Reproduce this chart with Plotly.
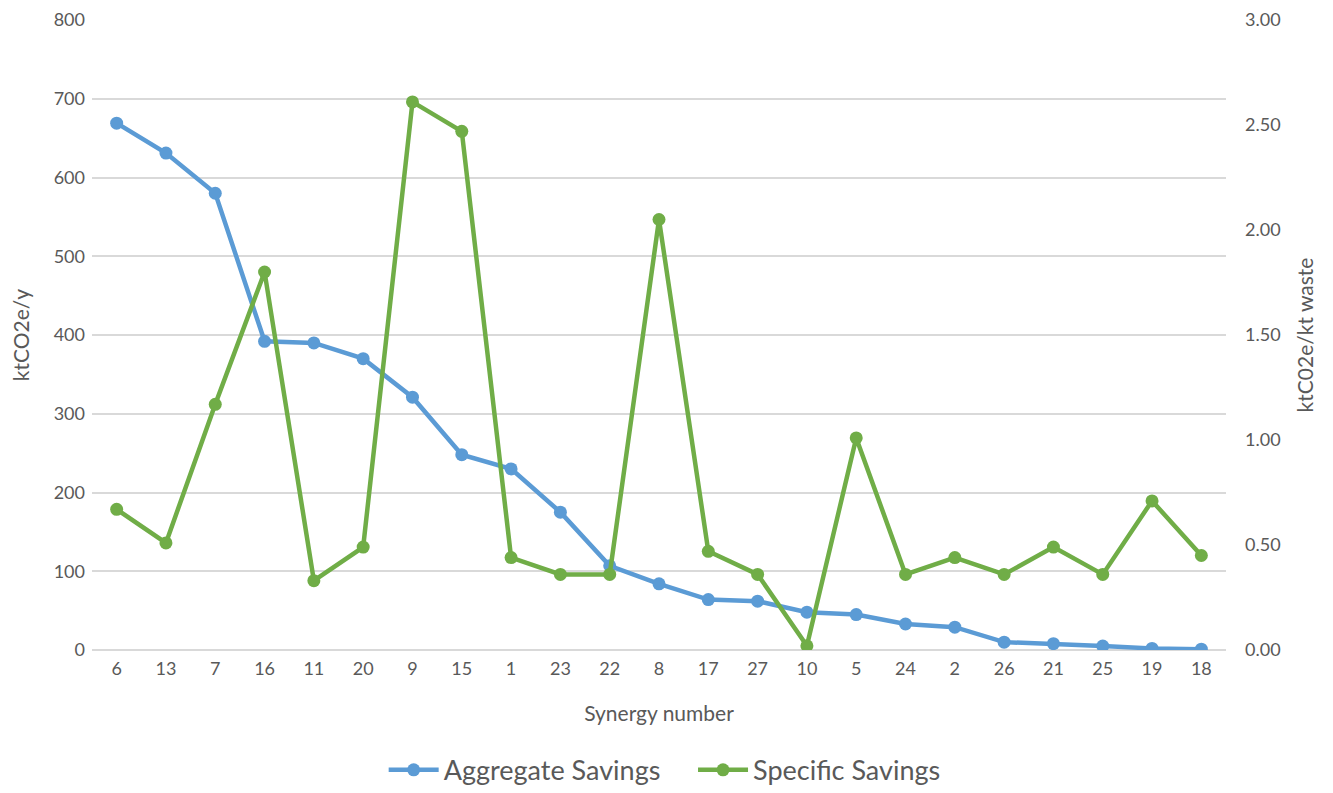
import plotly.graph_objects as go

synergy = ["6", "13", "7", "16", "11", "20", "9", "15", "1", "23", "22", "8",
           "17", "27", "10", "5", "24", "2", "26", "21", "25", "19", "18"]
aggregate_savings = [669, 631, 580, 392, 390, 370, 321, 248, 230, 175, 107, 84,
                     64, 62, 48, 45, 33, 29, 10, 8, 5, 2, 1]
specific_savings = [0.67, 0.51, 1.17, 1.80, 0.33, 0.49, 2.61, 2.47, 0.44, 0.36, 0.36, 2.05,
                    0.47, 0.36, 0.02, 1.01, 0.36, 0.44, 0.36, 0.49, 0.36, 0.71, 0.45]

left_ticks = [0, 100, 200, 300, 400, 500, 600, 700, 800]
right_ticks = [0, 0.5, 1.0, 1.5, 2.0, 2.5, 3.0]

FONT = "Lato, 'Open Sans', sans-serif"
TXT = "#595959"
GRID = "#D9D9D9"
PAD = "\u00a0" * 4  # visual gap between legend entries

fig = go.Figure()
fig.add_trace(go.Scatter(
    x=synergy, y=aggregate_savings, name="Aggregate Savings" + PAD,
    mode="lines+markers",
    line=dict(color="#5B9BD5", width=4.5),
    marker=dict(color="#5B9BD5", size=13),
))
fig.add_trace(go.Scatter(
    x=synergy, y=specific_savings, name="Specific Savings",
    mode="lines+markers", yaxis="y2",
    line=dict(color="#70AD47", width=4.5),
    marker=dict(color="#70AD47", size=13),
))

# page has an 8px body margin, so the figure is sized to fit inside the window
fig.update_layout(
    width=1317, height=777,
    margin=dict(l=84, r=99, t=12, b=135, autoexpand=False),
    paper_bgcolor="white", plot_bgcolor="white",
    font=dict(family=FONT, color=TXT, size=18),
    xaxis=dict(
        type="category", range=[-0.5, len(synergy) - 0.5],
        showgrid=False, showline=False, zeroline=False, automargin=False,
        ticks="", tickfont=dict(size=18, color=TXT), ticklabelstandoff=6,
        title=dict(text="Synergy number", font=dict(size=21, color=TXT), standoff=28),
    ),
    yaxis=dict(
        range=[0, 800], tickvals=left_ticks, ticktext=[str(v) for v in left_ticks],
        showgrid=True, gridcolor=GRID, gridwidth=1.5, automargin=False,
        zeroline=True, zerolinecolor=GRID, zerolinewidth=1.5,
        showline=False, ticks="", ticklabelstandoff=6,
        tickfont=dict(size=18, color=TXT),
        title=dict(text="ktCO2e/y", font=dict(size=21, color=TXT), standoff=26),
    ),
    yaxis2=dict(
        range=[0, 3.0], tickvals=right_ticks, ticktext=[f"{v:.2f}" for v in right_ticks],
        overlaying="y", side="right", automargin=False,
        showgrid=False, zeroline=False, showline=False, ticks="",
        ticklabelstandoff=18,
        tickfont=dict(size=18, color=TXT),
        title=dict(text="ktC02e/kt waste", font=dict(size=21, color=TXT), standoff=18),
    ),
    legend=dict(
        orientation="h", x=0.505, xanchor="center", y=-0.152, yanchor="top",
        font=dict(size=27, color=TXT), itemwidth=50,
    ),
)

fig.write_html("out.html")
